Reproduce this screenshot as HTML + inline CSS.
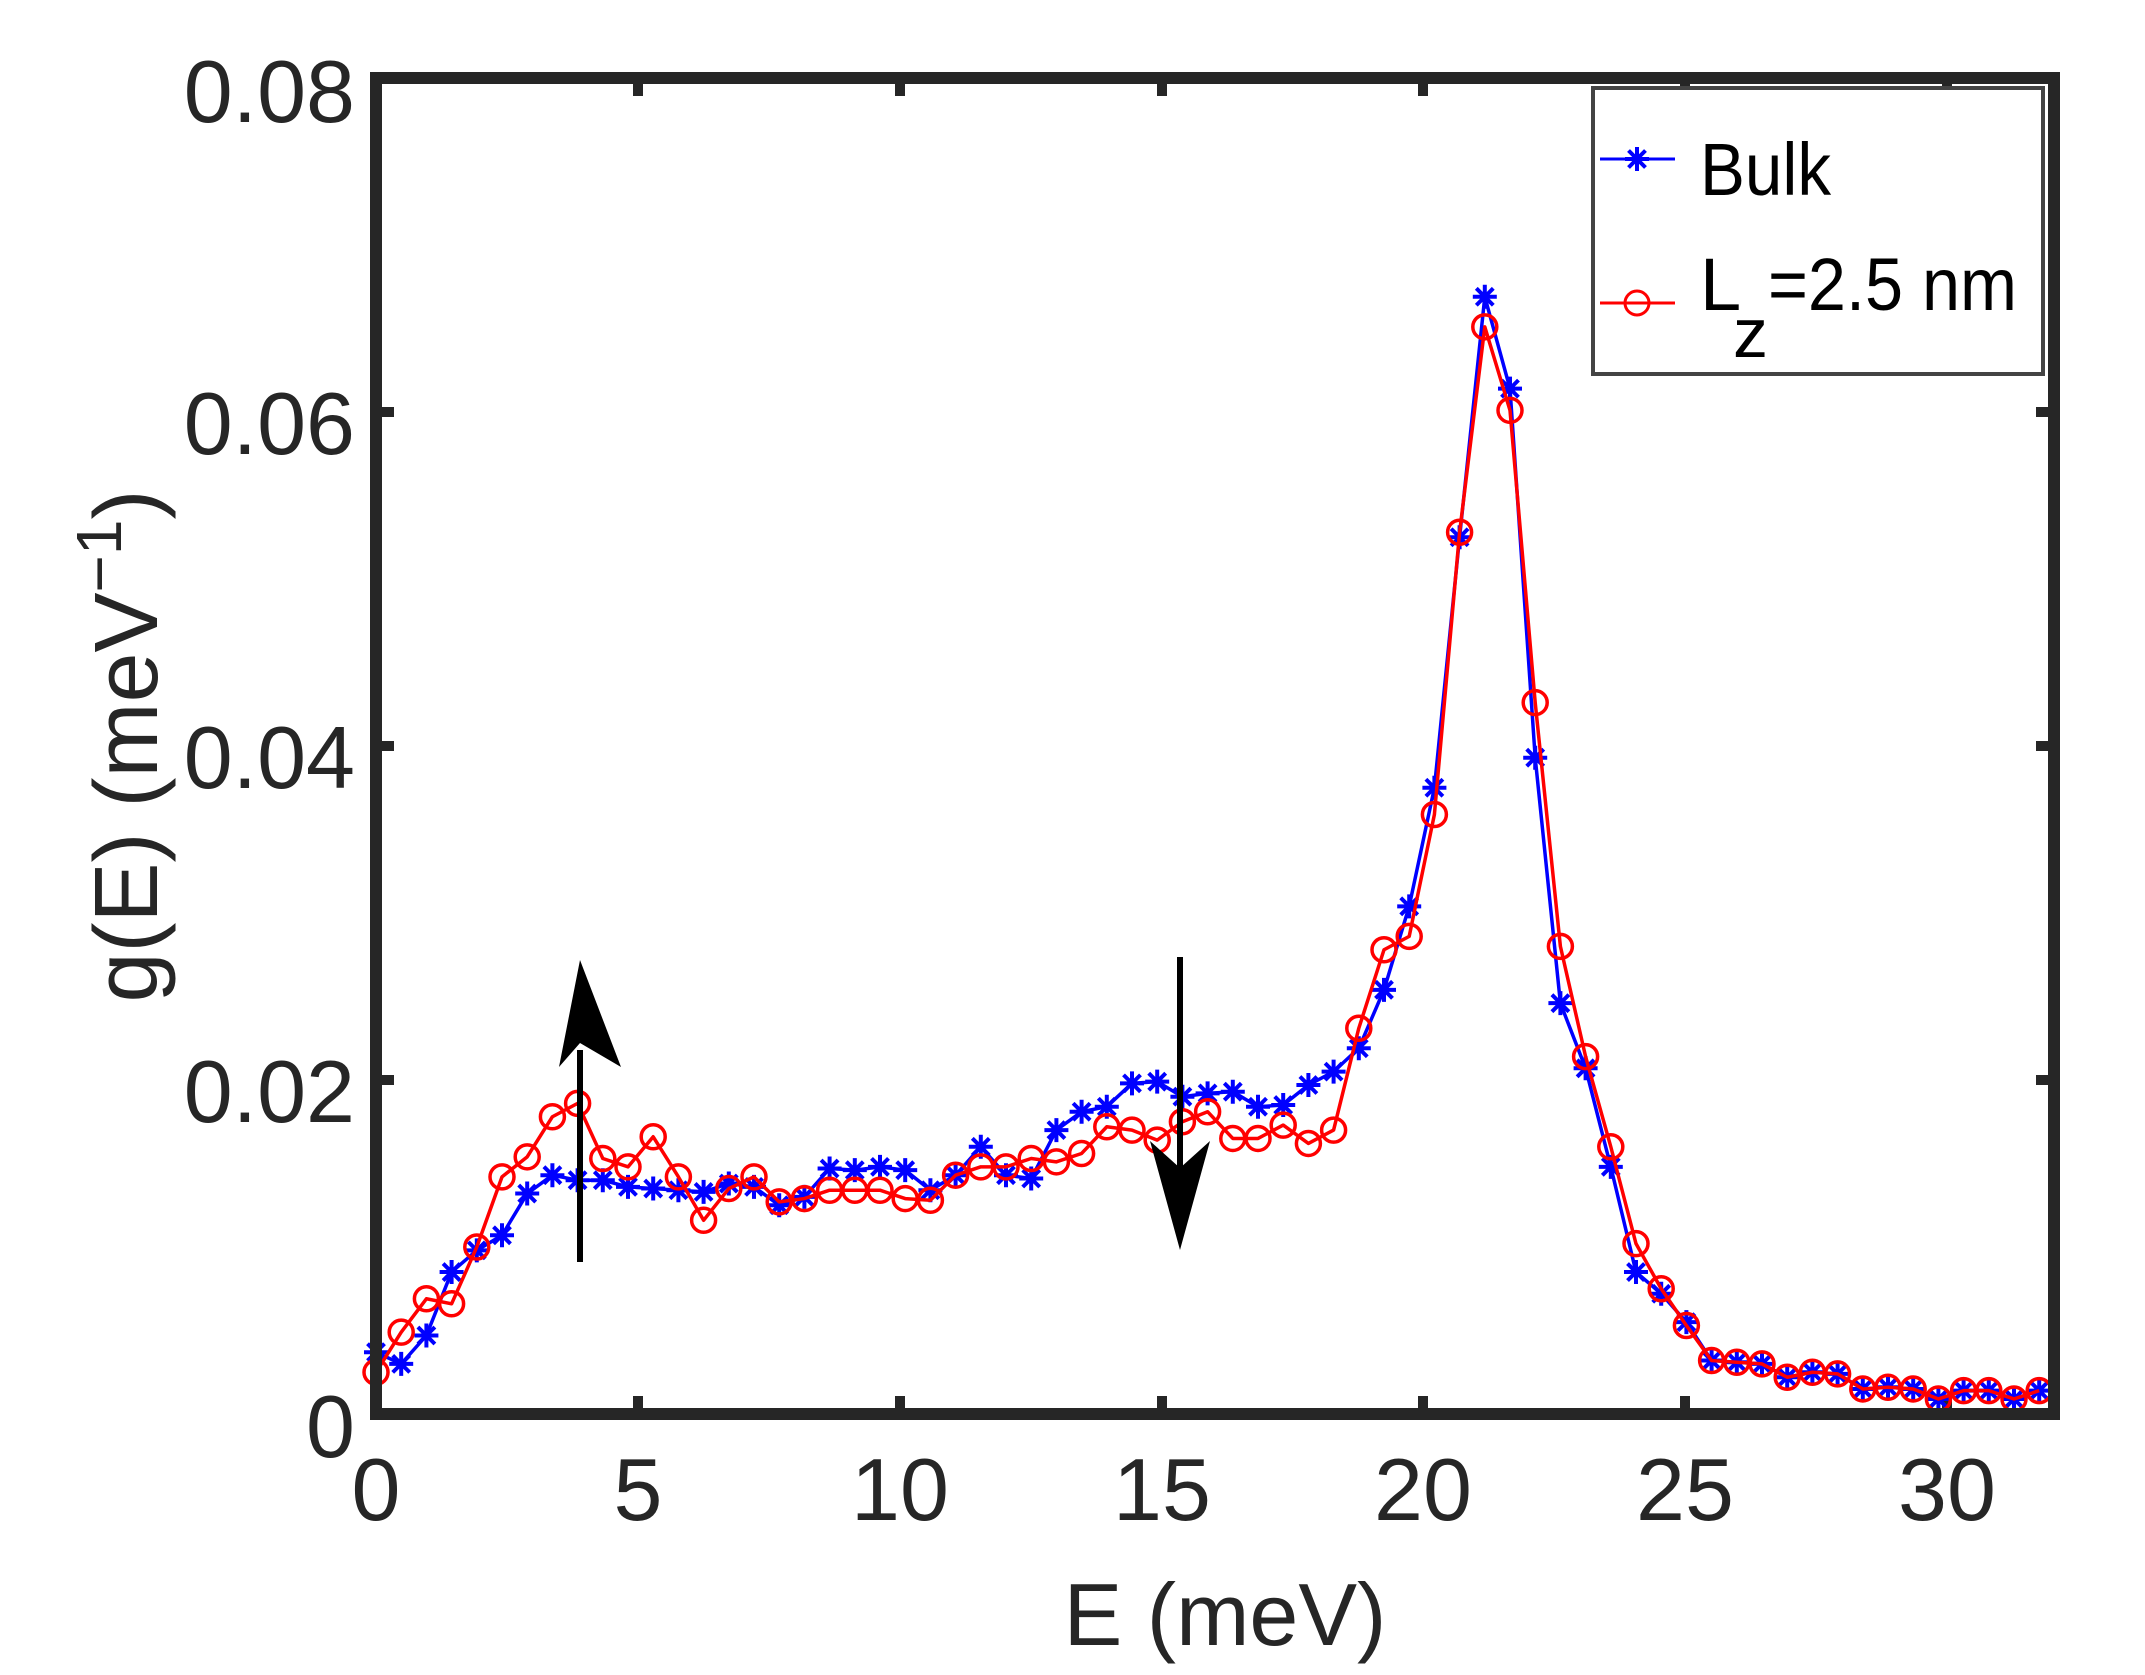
<!DOCTYPE html>
<html><head><meta charset="utf-8"><style>
html,body{margin:0;padding:0;background:#fff}
svg{display:block}
text{font-family:"Liberation Sans",sans-serif;fill:#262626}
</style></head><body>
<svg id="s" width="2145" height="1675" viewBox="0 0 2145 1675" xmlns="http://www.w3.org/2000/svg">
<rect width="2145" height="1675" fill="#fff"/>
<g id="ticks" stroke="#262626" stroke-width="10"></g>
<g id="series"></g>
<!-- arrows -->
<line x1="580" y1="1262" x2="580" y2="1050" stroke="#000" stroke-width="6"/>
<path d="M580 960 L621 1067 L580 1043 L559 1067 Z" fill="#000"/>
<line x1="1180" y1="957" x2="1180" y2="1170" stroke="#000" stroke-width="6"/>
<path d="M1180 1250 L1150 1141 L1180 1168 L1210 1141 Z" fill="#000"/>
<!-- frame -->
<rect x="376" y="78" width="1678" height="1336" fill="none" stroke="#262626" stroke-width="12"/>
<!-- legend -->
<rect x="1593" y="88" width="450" height="286" fill="#fff" stroke="#444" stroke-width="4"/>
<line x1="1600" y1="159" x2="1675" y2="159" stroke="#0000ff" stroke-width="3"/>
<g id="legstar"></g>
<line x1="1600" y1="303" x2="1675" y2="303" stroke="#ff0000" stroke-width="3"/>
<circle cx="1637" cy="303" r="12" fill="none" stroke="#ff0000" stroke-width="3"/>
<text x="1700" y="195" font-size="74" textLength="131" lengthAdjust="spacingAndGlyphs" style="fill:#000">Bulk</text>
<text x="1700" y="310" font-size="74" style="fill:#000">L</text>
<text x="1733" y="357" font-size="70" style="fill:#000">z</text>
<text x="1768" y="310" font-size="74" textLength="249" lengthAdjust="spacingAndGlyphs" style="fill:#000">=2.5 nm</text>
<!-- tick labels -->
<g font-size="88" text-anchor="middle">
<text x="376" y="1520">0</text><text x="638" y="1520">5</text><text x="900" y="1520">10</text>
<text x="1162" y="1520">15</text><text x="1423" y="1520">20</text><text x="1685" y="1520">25</text><text x="1947" y="1520">30</text>
</g>
<g font-size="88" text-anchor="end">
<text x="355" y="1457">0</text><text x="355" y="1122">0.02</text><text x="355" y="788">0.04</text>
<text x="355" y="454">0.06</text><text x="355" y="122">0.08</text>
</g>
<text x="1225" y="1645" font-size="88" text-anchor="middle">E (meV)</text>
<text transform="translate(157,746) rotate(-90)" font-size="90" text-anchor="middle">g(E) (meV<tspan dy="-36" font-size="64">−1</tspan><tspan dy="36">)</tspan></text>
</svg>
<script>
var NS="http://www.w3.org/2000/svg";
var blue=[.0037,.0030,.0047,.0085,.0098,.0107,.0132,.0143,.0140,.0140,.0136,.0135,.0134,.0133,.0138,.0136,.0125,.0130,.0147,.0146,.0148,.0146,.0134,.0143,.0160,.0143,.0141,.0170,.0181,.0184,.0198,.0199,.0190,.0192,.0193,.0184,.0185,.0197,.0205,.0219,.0254,.0304,.0375,.0525,.0669,.0614,.0393,.0246,.0207,.0148,.0085,.0072,.0055,.0032,.0031,.0030,.0022,.0025,.0024,.0015,.0016,.0015,.0009,.0014,.0014,.0009,.0014];
var red=[.0025,.0049,.0069,.0066,.0100,.0142,.0154,.0178,.0186,.0153,.0148,.0166,.0142,.0116,.0135,.0142,.0127,.0129,.0134,.0134,.0134,.0129,.0128,.0143,.0148,.0148,.0153,.0151,.0156,.0172,.0170,.0164,.0175,.0181,.0165,.0165,.0173,.0162,.0170,.0231,.0278,.0286,.0359,.0528,.0651,.0601,.0426,.0280,.0214,.0160,.0102,.0075,.0053,.0032,.0031,.0030,.0022,.0025,.0024,.0015,.0016,.0015,.0009,.0014,.0014,.0009,.0014];
function X(n){return 376+25.2*n;}
function Y(g){return 1414-g*16700;}
function el(t,a,p){var e=document.createElementNS(NS,t);for(var k in a)e.setAttribute(k,a[k]);p.appendChild(e);return e;}
var S=document.getElementById("series");
function star(x,y,c,p){var r=12,d="";
 d+="M"+(x-r)+" "+y+"L"+(x+r)+" "+y+"M"+x+" "+(y-r)+"L"+x+" "+(y+r);
 var q=r*0.707;d+="M"+(x-q)+" "+(y-q)+"L"+(x+q)+" "+(y+q)+"M"+(x-q)+" "+(y+q)+"L"+(x+q)+" "+(y-q);
 el("path",{d:d,stroke:c,"stroke-width":4,fill:"none"},p);}
function poly(arr,c){var pts=arr.map(function(g,i){return X(i)+","+Y(g)}).join(" ");
 el("polyline",{points:pts,fill:"none",stroke:c,"stroke-width":3.5,"stroke-linejoin":"round"},S);}
poly(blue,"#0000ff");
blue.forEach(function(g,i){star(X(i),Y(g),"#0000ff",S);});
poly(red,"#ff0000");
red.forEach(function(g,i){el("circle",{cx:X(i),cy:Y(g),r:12,fill:"none",stroke:"#ff0000","stroke-width":3.5},S);});
star(1637,159,"#0000ff",document.getElementById("legstar"));
var T=document.getElementById("ticks");
[638,900,1162,1423,1685,1947].forEach(function(x){
 el("line",{x1:x,y1:1414,x2:x,y2:1396},T);el("line",{x1:x,y1:78,x2:x,y2:96},T);});
[1080,746,412].forEach(function(y){
 el("line",{x1:376,y1:y,x2:394,y2:y},T);el("line",{x1:2054,y1:y,x2:2036,y2:y},T);});
</script>
</body></html>
